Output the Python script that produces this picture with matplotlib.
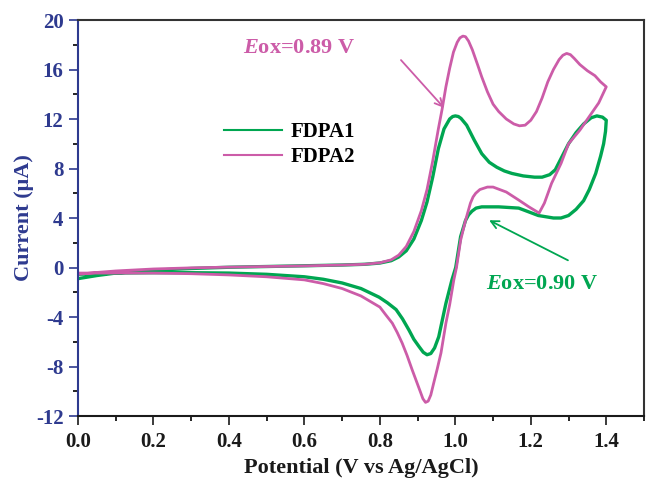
import matplotlib
matplotlib.use('Agg')
import matplotlib.pyplot as plt
from matplotlib.ticker import MultipleLocator, FormatStrFormatter

# FDPA1 (green) - one cycle, forward then reverse scan
e1_fwd = [0.00, 0.05, 0.10, 0.20, 0.30, 0.40, 0.50, 0.60, 0.70, 0.76, 0.80, 0.83, 0.85, 0.87,
          0.89, 0.91, 0.925, 0.94, 0.955, 0.97, 0.985, 0.993, 1.00, 1.008, 1.015, 1.03, 1.05,
          1.07, 1.09, 1.11, 1.13, 1.15, 1.18, 1.21, 1.23, 1.25, 1.265, 1.28, 1.30, 1.32,
          1.34, 1.36, 1.375, 1.39, 1.40]
i1_fwd = [-0.90, -0.65, -0.45, -0.22, -0.08, 0.02, 0.08, 0.14, 0.20, 0.26, 0.36, 0.55, 0.85, 1.35,
          2.3, 3.8, 5.3, 7.3, 9.6, 11.2, 12.0, 12.2, 12.25, 12.2, 12.05, 11.5, 10.3,
          9.2, 8.5, 8.1, 7.8, 7.6, 7.4, 7.3, 7.3, 7.5, 7.9, 8.8, 10.0, 10.9,
          11.6, 12.1, 12.25, 12.15, 11.9]
e1_rev = [1.40, 1.398, 1.393, 1.385, 1.372, 1.355, 1.34, 1.32, 1.30, 1.28, 1.26, 1.22, 1.168,
          1.115, 1.07, 1.055, 1.044, 1.035, 1.027, 1.014, 1.001, 0.991, 0.975, 0.956, 0.945,
          0.935, 0.925, 0.915, 0.904, 0.89, 0.877, 0.86, 0.843, 0.82, 0.798, 0.75, 0.70,
          0.65, 0.60, 0.50, 0.40, 0.30, 0.20, 0.10, 0.00]
i1_rev = [11.9, 11.0, 10.0, 9.0, 7.6, 6.3, 5.4, 4.7, 4.2, 4.0, 4.0, 4.2, 4.8,
          4.9, 4.9, 4.8, 4.55, 4.25, 3.8, 2.5, 0.0, -1.0, -2.9, -5.6, -6.5,
          -6.95, -7.05, -6.85, -6.4, -5.8, -5.05, -4.15, -3.4, -2.85, -2.4, -1.7, -1.25,
          -0.95, -0.75, -0.55, -0.45, -0.42, -0.42, -0.45, -0.55]

# FDPA2 (pink)
e2_fwd = [0.00, 0.05, 0.10, 0.20, 0.30, 0.40, 0.50, 0.60, 0.70, 0.76, 0.80, 0.83, 0.85, 0.87,
          0.89, 0.91, 0.925, 0.94, 0.955, 0.965, 0.975, 0.985, 0.995, 1.005, 1.012, 1.02,
          1.027, 1.035, 1.045, 1.06, 1.07, 1.085, 1.10, 1.115, 1.135, 1.155, 1.17, 1.185,
          1.20, 1.215, 1.23, 1.245, 1.26, 1.275, 1.285, 1.295, 1.305, 1.315, 1.33, 1.35,
          1.37, 1.385, 1.40]
i2_fwd = [-0.55, -0.40, -0.28, -0.12, -0.03, 0.03, 0.08, 0.13, 0.20, 0.26, 0.38, 0.62, 1.0, 1.7,
          2.9, 4.6, 6.3, 8.6, 11.2, 12.8, 14.6, 16.1, 17.4, 18.2, 18.55, 18.7,
          18.65, 18.3, 17.6, 16.3, 15.4, 14.2, 13.2, 12.6, 12.0, 11.6, 11.45, 11.5,
          11.9, 12.6, 13.7, 15.0, 16.0, 16.8, 17.15, 17.3, 17.2, 16.9, 16.4, 15.9,
          15.5, 15.0, 14.6]
e2_rev = [1.40, 1.38, 1.355, 1.33, 1.30, 1.28, 1.255, 1.236, 1.222, 1.195, 1.168, 1.135,
          1.10, 1.085, 1.065, 1.054, 1.047, 1.04, 1.027, 1.014, 1.003, 0.996, 0.985, 0.975,
          0.962, 0.952, 0.943, 0.935, 0.928, 0.921, 0.914, 0.908, 0.897, 0.886, 0.872,
          0.859, 0.846, 0.833, 0.815, 0.80, 0.75, 0.70, 0.65, 0.60, 0.50, 0.40, 0.30,
          0.20, 0.10, 0.00]
i2_rev = [14.6, 13.3, 12.2, 11.1, 10.0, 8.4, 6.8, 5.2, 4.4, 4.9, 5.45, 6.1,
          6.5, 6.5, 6.3, 6.0, 5.7, 5.2, 3.8, 2.2, 0.0, -1.0, -3.0, -4.5,
          -6.9, -8.2, -9.3, -10.3, -10.8, -10.9, -10.6, -10.1, -9.2, -8.3, -7.1,
          -6.1, -5.25, -4.5, -3.8, -3.2, -2.3, -1.7, -1.3, -1.0, -0.75, -0.6, -0.5,
          -0.45, -0.45, -0.45]

green = '#00a651'
pink = '#cc5ca8'
navy = '#2e3a8f'

plt.rcParams['font.family'] = 'Liberation Serif'
plt.rcParams['font.weight'] = 'bold'
plt.rcParams['axes.unicode_minus'] = False
plt.rcParams['mathtext.fontset'] = 'custom'
plt.rcParams['mathtext.it'] = 'Liberation Serif:italic:bold'
plt.rcParams['mathtext.rm'] = 'Liberation Serif:bold'

fig = plt.figure(figsize=(6.46, 4.82), dpi=100)
ax = fig.add_axes([78 / 646, 1 - 416 / 482, 566 / 646, 396 / 482])

ax.plot(e1_fwd + e1_rev, i1_fwd + i1_rev, color=green, linewidth=2.4, label='FDPA1')
ax.plot(e2_fwd + e2_rev, i2_fwd + i2_rev, color=pink, linewidth=2.0, label='FDPA2')

ax.set_xlim(0, 1.5)
ax.set_ylim(-12, 20)
ax.xaxis.set_major_locator(MultipleLocator(0.2))
ax.xaxis.set_minor_locator(MultipleLocator(0.1))
ax.yaxis.set_major_locator(MultipleLocator(4))
ax.yaxis.set_minor_locator(MultipleLocator(2))
ax.xaxis.set_major_formatter(FormatStrFormatter('%.1f'))
ax.tick_params(which='both', direction='out', top=False, right=False, labelsize=15)
ax.tick_params(which='major', length=6.5, width=1.2)
ax.tick_params(which='minor', length=3.5, width=1.2)
ax.tick_params(axis='x', colors='#1a1a1a', pad=5)
ax.tick_params(axis='y', colors=navy, pad=4)

for s in ['top', 'right']:
    ax.spines[s].set_color('#333333')
    ax.spines[s].set_linewidth(1.5)
ax.spines['bottom'].set_color('#1a1a1a')
ax.spines['bottom'].set_linewidth(1.5)
ax.spines['left'].set_color(navy)
ax.spines['left'].set_linewidth(1.5)

ax.set_xlabel('Potential (V vs Ag/AgCl)', fontsize=16, fontweight='bold', color='#1a1a1a', labelpad=4)
ax.set_ylabel('Current (\u03bcA)', fontsize=16, fontweight='bold', color=navy, labelpad=1)

leg = ax.legend(loc='upper left', bbox_to_anchor=(0.225, 0.79), frameon=False, fontsize=15,
                handlelength=2.8, handletextpad=0.4, labelspacing=0.25)
for line in leg.get_lines():
    line.set_linewidth(1.5)

ax.annotate('', xy=(0.975, 12.73), xytext=(0.851, 16.93),
            arrowprops=dict(arrowstyle='->', color=pink, lw=1.3, mutation_scale=14))
ax.text(0.436, 17.33, r'$\mathit{E}$ox=0.89 V', color=pink, fontsize=16, fontweight='bold')
ax.annotate('', xy=(1.083, 3.92), xytext=(1.305, 0.48),
            arrowprops=dict(arrowstyle='->', color=green, lw=1.3, mutation_scale=14))
ax.text(1.081, -1.74, r'$\mathit{E}$ox=0.90 V', color=green, fontsize=16, fontweight='bold')

fig.savefig('out.png', dpi=100)
